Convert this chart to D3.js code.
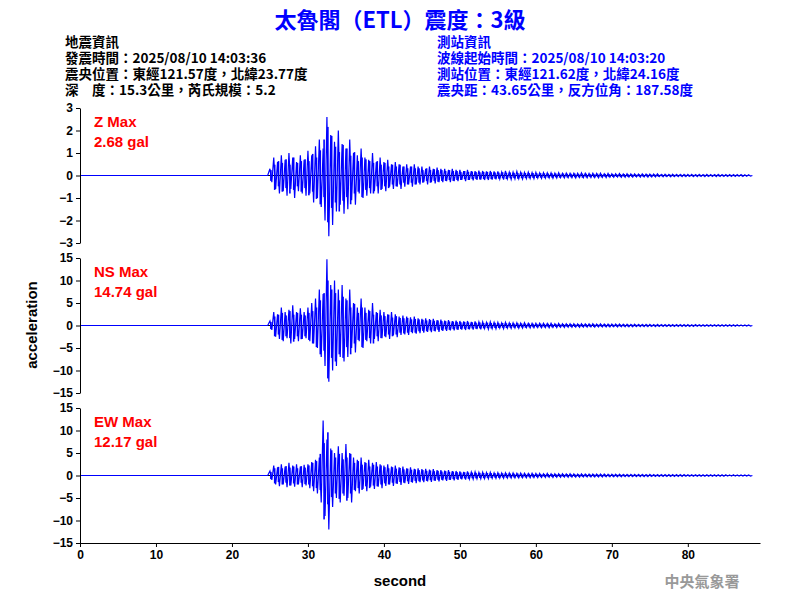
<!DOCTYPE html>
<html><head><meta charset="utf-8">
<script src="https://cdn.jsdelivr.net/npm/d3@7"></script>
<style>body{margin:0;background:#fff}</style></head>
<body><svg id="c" width="800" height="600"></svg>
<script>
const t0 = 25, dt = 0.5;
const zUp = [0.3,0.8,0.6,0.9,0.7,1.0,0.8,0.6,0.9,0.7, 1.1,0.9,1.3,1.6,1.2,2.6,1.8,1.5,2.0,1.4, 1.2,1.6,1.0,0.9,1.2,0.8,0.7,1.0,0.6,0.8, 0.6,0.7,0.5,0.6,0.5,0.4,0.5,0.4,0.5,0.4, 0.4,0.3,0.4,0.3,0.35,0.3,0.3,0.25,0.3,0.25,
 0.25,0.2,0.25,0.2,0.2,0.22,0.2,0.18,0.2,0.18,0.18,0.15,0.2,0.15,0.15,0.18,0.15,0.14,0.15,0.13,
 0.14,0.12,0.13,0.12,0.12,0.1,0.12,0.1,0.11,0.1,0.1,0.1,0.12,0.1,0.09,0.1,0.09,0.1,0.08,0.09,
 0.08,0.08,0.09,0.07,0.08,0.07,0.07,0.06,0.07,0.06,0.06,0.06,0.07,0.05,0.06,0.05,0.06,0.05,0.05,0.05,
 0.05,0.05,0.04,0.05,0.04,0.05,0.04,0.04,0.05,0.04,0.04,0.04,0.04,0.04,0.04,0.03,0.03];
const zDown = [0.3,0.6,0.8,0.7,0.9,0.6,1.0,0.7,0.8,0.9, 0.8,1.2,1.0,1.4,2.0,2.7,2.2,1.6,1.3,1.7, 1.5,1.1,1.3,0.8,1.0,0.9,0.8,0.7,0.8,0.6, 0.7,0.5,0.6,0.5,0.6,0.5,0.4,0.5,0.4,0.4, 0.3,0.4,0.3,0.35,0.3,0.3,0.25,0.3,0.25,0.25,
 0.2,0.25,0.2,0.22,0.2,0.18,0.2,0.2,0.18,0.17,0.16,0.18,0.15,0.17,0.15,0.14,0.16,0.14,0.13,0.14,
 0.12,0.13,0.12,0.11,0.12,0.11,0.1,0.11,0.1,0.1,0.11,0.09,0.1,0.1,0.09,0.09,0.1,0.08,0.09,0.08,
 0.08,0.07,0.08,0.08,0.07,0.07,0.06,0.07,0.06,0.07,0.06,0.06,0.05,0.06,0.05,0.06,0.05,0.05,0.05,0.05,
 0.04,0.05,0.05,0.04,0.05,0.04,0.04,0.05,0.04,0.04,0.04,0.04,0.04,0.03,0.04,0.03,0.03];
const nsUp = [1,3,2.5,4,3,3.5,4.5,3,3.8,3, 4,5,6,8,7,14.7,9,10,8,9, 6,8,5,4,6,4,3.5,5,3,3.5, 3,2.5,3,2.5,2,2.2,2,1.8,2,1.6, 1.5,1.6,1.4,1.5,1.2,1.3,1.1,1.2,1,1.1,
 1,0.9,1,0.8,0.9,0.8,0.8,0.7,0.8,0.7,0.7,0.6,0.7,0.6,0.6,0.6,0.5,0.6,0.5,0.5,
 0.5,0.5,0.5,0.45,0.5,0.4,0.45,0.4,0.4,0.4,0.4,0.35,0.4,0.35,0.35,0.4,0.3,0.35,0.3,0.3,
 0.3,0.3,0.3,0.28,0.3,0.25,0.28,0.25,0.25,0.25,0.25,0.22,0.25,0.2,0.22,0.2,0.22,0.2,0.2,0.2,
 0.2,0.18,0.2,0.18,0.18,0.17,0.18,0.16,0.17,0.16,0.16,0.15,0.15,0.15,0.14,0.14,0.13];
const nsDown = [1,2.5,3,3.5,2.8,4,3,3.5,3,2.8, 3.5,4,5,7,9,12.5,10,9,7,8, 7,5,6,3.5,5,3.5,4,3,3.5,2.8, 2.6,3,2.2,2.6,2.1,2,2.1,1.7,1.8,1.7, 1.6,1.4,1.5,1.3,1.4,1.2,1.2,1.1,1.1,1,
 0.9,1,0.85,0.9,0.8,0.85,0.7,0.8,0.7,0.75,0.6,0.7,0.6,0.65,0.55,0.6,0.55,0.5,0.55,0.5,
 0.45,0.5,0.45,0.5,0.4,0.45,0.4,0.42,0.38,0.4,0.35,0.4,0.35,0.36,0.32,0.35,0.32,0.3,0.32,0.3,
 0.28,0.3,0.27,0.28,0.26,0.27,0.25,0.26,0.24,0.25,0.22,0.24,0.22,0.22,0.2,0.22,0.2,0.21,0.2,0.19,
 0.19,0.2,0.18,0.18,0.17,0.18,0.16,0.17,0.16,0.16,0.15,0.16,0.15,0.14,0.14,0.13,0.13];
const ewUp = [1,2.2,1.8,2.5,2,2.8,2.2,2.5,2,2.4, 2.5,3,3.5,4,12.2,8,6,5,6.5,5, 7,5,4,3.5,4,3,3.5,2.8,3,2.5, 2.2,2.5,2,2.2,1.8,2,1.6,1.8,1.5,1.6, 1.4,1.5,1.3,1.4,1.2,1.2,1.1,1.2,1,1,
 0.9,0.8,0.9,0.75,0.8,0.7,0.75,0.65,0.7,0.6,0.65,0.55,0.6,0.55,0.55,0.5,0.55,0.5,0.45,0.5,
 0.45,0.45,0.4,0.45,0.4,0.4,0.38,0.4,0.35,0.38,0.35,0.33,0.35,0.32,0.33,0.3,0.32,0.3,0.3,0.28,
 0.28,0.27,0.28,0.25,0.26,0.25,0.25,0.24,0.24,0.22,0.23,0.22,0.22,0.21,0.2,0.21,0.2,0.2,0.19,0.19,
 0.18,0.18,0.17,0.18,0.17,0.16,0.17,0.16,0.15,0.16,0.15,0.14,0.15,0.14,0.13,0.13,0.12];
const ewDown = [1,2,2.4,2,2.6,2.2,2.5,2,2.6,2.2, 2.8,3.5,4,6,9,12,7,5,6,4.5, 5,6,3.5,4,3,3.5,2.5,3,2.5,2.8, 2.3,2,2.3,1.9,2.1,1.7,1.9,1.6,1.7,1.5, 1.5,1.3,1.4,1.2,1.3,1.1,1.2,1,1.1,0.95,
 0.85,0.9,0.8,0.8,0.75,0.75,0.7,0.7,0.65,0.65,0.6,0.6,0.58,0.55,0.52,0.55,0.5,0.48,0.5,0.45,
 0.45,0.42,0.44,0.4,0.42,0.38,0.4,0.36,0.38,0.35,0.34,0.35,0.32,0.33,0.31,0.32,0.3,0.3,0.29,0.28,
 0.27,0.28,0.26,0.26,0.25,0.25,0.24,0.24,0.23,0.23,0.22,0.22,0.21,0.21,0.2,0.2,0.2,0.19,0.19,0.18,
 0.18,0.17,0.18,0.17,0.16,0.17,0.16,0.15,0.15,0.15,0.14,0.14,0.14,0.13,0.13,0.12,0.12];

const channels = [
  {name:"Z Max", max:"2.68 gal", up:zUp, down:zDown, lim:3, ticks:[-3,-2,-1,0,1,2,3], top:108},
  {name:"NS Max", max:"14.74 gal", up:nsUp, down:nsDown, lim:15, ticks:[-15,-10,-5,0,5,10,15], top:258},
  {name:"EW Max", max:"12.17 gal", up:ewUp, down:ewDown, lim:15, ticks:[-15,-10,-5,0,5,10,15], top:408}
];
const xTicks = [0,10,20,30,40,50,60,70,80];

const svg = d3.select("#c");
const F = "'Liberation Sans', Arial, sans-serif";
const CJK = "'Noto Sans CJK TC', sans-serif";
const x = d3.scaleLinear().domain([0,89.5]).range([80,760]);
const ph = 135;

svg.append("text").attr("x",400).attr("y",28).attr("text-anchor","middle")
  .attr("fill","#0000ff").attr("font-family",CJK).attr("font-weight","bold").attr("font-size",22)
  .text("太魯閣（ETL）震度：3級");
const left = ["地震資訊","發震時間：2025/08/10 14:03:36","震央位置：東經121.57度，北緯23.77度","深　度：15.3公里，芮氏規模：5.2"];
const right = ["測站資訊","波線起始時間：2025/08/10 14:03:20","測站位置：東經121.62度，北緯24.16度","震央距：43.65公里，反方位角：187.58度"];
left.forEach((s,i)=>svg.append("text").attr("x",65).attr("y",47+i*16).attr("font-family",CJK)
  .attr("font-size",13.5).attr("font-weight","bold").attr("fill","#000").text(s));
right.forEach((s,i)=>svg.append("text").attr("x",437).attr("y",47+i*16).attr("font-family",CJK)
  .attr("font-size",13.5).attr("font-weight","bold").attr("fill","#0000ff").text(s));

channels.forEach((ch,k)=>{
  const y = d3.scaleLinear().domain([-ch.lim,ch.lim]).range([ch.top+ph,ch.top]);
  const g = svg.append("g");
  g.append("line").attr("x1",x(0)).attr("x2",x(88)).attr("y1",y(0)).attr("y2",y(0)).attr("stroke","#000").attr("stroke-width",1);
  const pts = [[0,0],[t0-0.3,0]];
  ch.up.forEach((v,i)=>{ const t=t0+i*dt; pts.push([t,v]); pts.push([t+dt/2,-ch.down[i]]); });
  pts.push([t0+ch.up.length*dt,0]);
  g.selectAll("rect.bar").data(ch.up).join("rect")
    .attr("x",(d,i)=>x(t0+i*dt+dt/4)-0.8).attr("width",1.6)
    .attr("y",(d,i)=>y(ch.down[i]*0.8)).attr("height",(d,i)=>y(-d*0.8)-y(ch.down[i]*0.8))
    .attr("fill","#0000ff");
  g.append("path").attr("d",d3.line().x(d=>x(d[0])).y(d=>y(d[1]))(pts))
    .attr("fill","none").attr("stroke","#0000ff").attr("stroke-width",1.2);
  const ax = g.append("g").attr("transform","translate(80,0)")
    .call(d3.axisLeft(y).tickValues(ch.ticks).tickFormat(d3.format("d")).tickSize(4).tickSizeOuter(0));
  ax.select(".domain").attr("stroke","#000");
  ax.selectAll("text").attr("font-family",F).attr("font-size",12).attr("font-weight","bold").attr("fill","#000");
  g.append("text").attr("x",94).attr("y",ch.top+19).attr("fill","#ff0000").attr("font-family",F)
    .attr("font-size",15).attr("font-weight","bold").text(ch.name);
  g.append("text").attr("x",94).attr("y",ch.top+39).attr("fill","#ff0000").attr("font-family",F)
    .attr("font-size",15).attr("font-weight","bold").text(ch.max);
});
const xa = svg.append("g").attr("transform","translate(0,543)")
  .call(d3.axisBottom(x).tickValues(xTicks).tickSize(4).tickSizeOuter(0));
xa.selectAll("text").attr("font-family",F).attr("font-size",12).attr("font-weight","bold").attr("fill","#000");
svg.append("text").attr("x",400).attr("y",586).attr("text-anchor","middle").attr("font-family",F)
  .attr("font-size",15).attr("font-weight","bold").text("second");
svg.append("text").attr("transform","translate(37,325) rotate(-90)").attr("text-anchor","middle")
  .attr("font-family",F).attr("font-size",15).attr("font-weight","bold").text("acceleration");
svg.append("text").attr("x",702).attr("y",587).attr("text-anchor","middle").attr("font-family",CJK)
  .attr("font-size",15).attr("font-weight","bold").attr("fill","#999").text("中央氣象署");
</script></body></html>
